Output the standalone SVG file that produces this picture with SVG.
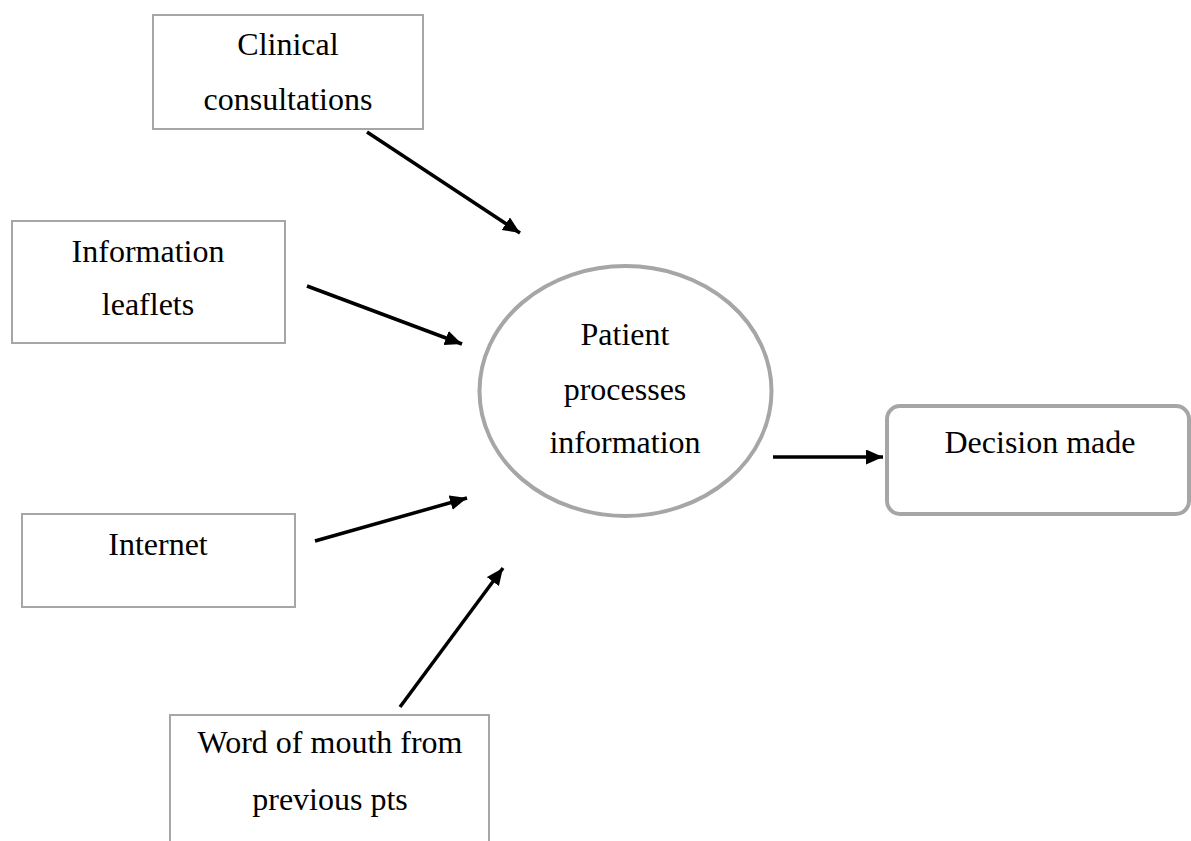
<svg xmlns="http://www.w3.org/2000/svg" width="1191" height="841" viewBox="0 0 1191 841">
<style>
.box{fill:#fff;stroke:#a6a6a6;stroke-width:2}
.bold{fill:#fff;stroke:#a6a6a6;stroke-width:4}
.t{font-family:"Liberation Serif","Times New Roman",serif;font-size:32px;fill:#000;text-anchor:middle}
.arr{stroke:#000;stroke-width:3.5;fill:none;marker-end:url(#ah)}
</style>
<defs>
<marker id="ah" markerUnits="userSpaceOnUse" markerWidth="18" markerHeight="16" refX="17" refY="7.5" orient="auto">
<path d="M0,0 L17,7.5 L0,15 z" fill="#000"/>
</marker>
</defs>
<rect width="1191" height="841" fill="#fff"/>
<g id="clinical">
<rect class="box" x="153" y="15" width="270" height="114"/>
<text class="t" x="288" y="55">Clinical</text>
<text class="t" x="288" y="110">consultations</text>
</g>
<g id="leaflets">
<rect class="box" x="12" y="221" width="273" height="122"/>
<text class="t" x="148" y="262">Information</text>
<text class="t" x="148" y="315">leaflets</text>
</g>
<g id="internet">
<rect class="box" x="22" y="514" width="273" height="93"/>
<text class="t" x="158" y="555">Internet</text>
</g>
<g id="word">
<rect class="box" x="170" y="715" width="319" height="140"/>
<text class="t" x="330" y="753">Word of mouth from</text>
<text class="t" x="330" y="810">previous pts</text>
</g>
<g id="patient">
<ellipse class="bold" cx="625.5" cy="391" rx="146" ry="125"/>
<text class="t" x="625" y="345">Patient</text>
<text class="t" x="625" y="400">processes</text>
<text class="t" x="625" y="453">information</text>
</g>
<g id="decision">
<rect class="bold" x="887" y="406" width="302" height="108" rx="13" ry="13"/>
<text class="t" x="1040" y="453">Decision made</text>
</g>
<g id="connectors">
<line class="arr" x1="367" y1="132" x2="520" y2="233"/>
<line class="arr" x1="307" y1="286" x2="462" y2="344"/>
<line class="arr" x1="315" y1="541" x2="467" y2="498"/>
<line class="arr" x1="400" y1="707" x2="503" y2="568"/>
<line class="arr" x1="773" y1="457" x2="883" y2="457"/>
</g>
</svg>
